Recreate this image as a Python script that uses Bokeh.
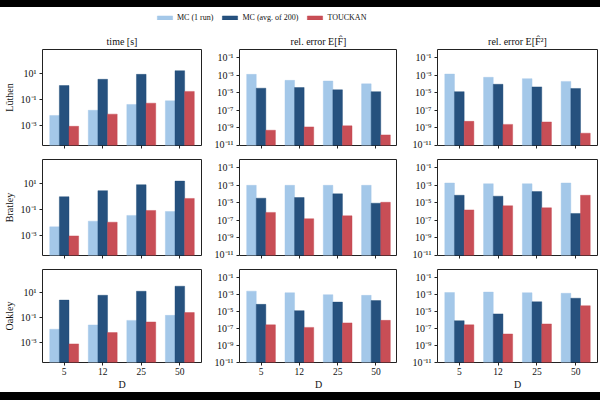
from bokeh.plotting import figure
from bokeh.layouts import column, row
from bokeh.models import (Range1d, FixedTicker, CustomJSTickFormatter, Legend,
                          LegendItem, Spacer, ColumnDataSource)
from bokeh.transform import dodge
from bokeh.embed import file_html
from bokeh.resources import INLINE

# ---------------- data ----------------
D_LABELS = ["5", "12", "25", "50"]
PROBLEMS = ["Lüthen", "Bratley", "Oakley"]
METRICS = ["time [s]", "rel. error E[F̂]", "rel. error E[F̂²]"]
SERIES = ["MC (1 run)", "MC (avg. of 200)", "TOUCKAN"]

# time [s]
luthen_time_mc1 = [5.6e-3, 1.4e-2, 3.9e-2, 7.4e-2]
luthen_time_mc200 = [1.1, 3.3, 7.9, 15.0]
luthen_time_touckan = [8.3e-4, 7.1e-3, 4.9e-2, 0.39]
bratley_time_mc1 = [4.4e-3, 1.2e-2, 3.3e-2, 6.6e-2]
bratley_time_mc200 = [0.89, 2.6, 7.4, 14.0]
bratley_time_touckan = [8.9e-4, 1.0e-2, 7.9e-2, 0.66]
oakley_time_mc1 = [1.2e-2, 2.6e-2, 6.0e-2, 0.15]
oakley_time_mc200 = [2.4, 5.8, 12.0, 30.0]
oakley_time_touckan = [8.3e-4, 6.5e-3, 4.5e-2, 0.25]

# rel. error E[F]
luthen_ef_mc1 = [1.2e-3, 2.5e-4, 2.1e-4, 1.0e-4]
luthen_ef_mc200 = [3.2e-5, 3.8e-5, 2.1e-5, 1.3e-5]
luthen_ef_touckan = [5.4e-10, 1.3e-9, 1.7e-9, 1.6e-10]
bratley_ef_mc1 = [9.3e-4, 9.3e-4, 9.3e-4, 9.3e-4]
bratley_ef_mc200 = [3.2e-5, 3.8e-5, 1.0e-4, 8.7e-6]
bratley_ef_touckan = [7.8e-7, 1.5e-7, 3.2e-7, 1.1e-5]
oakley_ef_mc1 = [2.3e-3, 1.5e-3, 8.9e-4, 7.4e-4]
oakley_ef_mc200 = [6.5e-5, 1.2e-5, 1.2e-4, 1.8e-4]
oakley_ef_touckan = [2.6e-7, 1.3e-7, 4.4e-7, 8.7e-7]

# rel. error E[F^2]
luthen_ef2_mc1 = [1.3e-3, 5.5e-4, 3.9e-4, 1.9e-4]
luthen_ef2_mc200 = [1.3e-5, 8.9e-5, 4.5e-5, 3.0e-5]
luthen_ef2_touckan = [5.5e-9, 2.5e-9, 4.7e-9, 2.5e-10]
bratley_ef2_mc1 = [1.7e-3, 1.4e-3, 1.4e-3, 1.7e-3]
bratley_ef2_mc200 = [6.9e-5, 5.4e-5, 1.8e-4, 5.9e-7]
bratley_ef2_touckan = [1.5e-6, 4.4e-6, 2.6e-6, 6.9e-5]
oakley_ef2_mc1 = [1.6e-3, 1.8e-3, 1.5e-3, 1.3e-3]
oakley_ef2_mc200 = [7.9e-7, 5.0e-6, 1.3e-4, 3.4e-4]
oakley_ef2_touckan = [2.6e-7, 2.2e-8, 3.3e-7, 4.5e-5]

TIME_TICKS = [1e-3, 1e-1, 1e1]
ERROR_TICKS = [1e-11, 1e-9, 1e-7, 1e-5, 1e-3, 1e-1]

panels = [
    [[luthen_time_mc1, luthen_time_mc200, luthen_time_touckan],
     [luthen_ef_mc1, luthen_ef_mc200, luthen_ef_touckan],
     [luthen_ef2_mc1, luthen_ef2_mc200, luthen_ef2_touckan]],
    [[bratley_time_mc1, bratley_time_mc200, bratley_time_touckan],
     [bratley_ef_mc1, bratley_ef_mc200, bratley_ef_touckan],
     [bratley_ef2_mc1, bratley_ef2_mc200, bratley_ef2_touckan]],
    [[oakley_time_mc1, oakley_time_mc200, oakley_time_touckan],
     [oakley_ef_mc1, oakley_ef_mc200, oakley_ef_touckan],
     [oakley_ef2_mc1, oakley_ef2_mc200, oakley_ef2_touckan]],
]

# ---------------- style ----------------
FONT = "Liberation Serif"
COLORS = ["#9fc5e8", "#1a4877", "#c5444d"]
EDGE = "#222222"
BAR_W = 0.25
OFFSETS = [-0.25, 0.0, 0.25]

col_border_left = [40, 37, 40]
col_frame_w = [161, 158, 160]
col_border_right = [1, 0, 4]
row_border_top = [21, 10, 10]
row_border_bottom = [4, 4, 27]
FRAME_H = 96

sup_fmt_code = """
const m = {"-":"\u207b","0":"\u2070","1":"\u00b9","2":"\u00b2","3":"\u00b3",
           "4":"\u2074","5":"\u2075","6":"\u2076","7":"\u2077","8":"\u2078","9":"\u2079"};
const e = Math.round(Math.log10(tick));
return "10" + String(e).split("").map(c => m[c]).join("");
"""

grid_rows = []
for i, prob in enumerate(PROBLEMS):
    figs = []
    for j, met in enumerate(METRICS):
        is_time = (j == 0)
        y_range = Range1d(10 ** -4.55, 10 ** 2.8) if is_time else Range1d(1e-11, 10 ** -0.1)
        w = col_border_left[j] + col_frame_w[j] + col_border_right[j]
        h = row_border_top[i] + FRAME_H + row_border_bottom[i]
        p = figure(width=w, height=h, y_axis_type="log",
                   x_range=Range1d(-0.5625, 3.5625), y_range=y_range,
                   output_backend="svg", toolbar_location=None,
                   title=(met if i == 0 else None),
                   min_border_left=col_border_left[j],
                   min_border_right=col_border_right[j],
                   min_border_top=row_border_top[i],
                   min_border_bottom=row_border_bottom[i])
        p.background_fill_color = "white"
        p.border_fill_color = "white"
        p.outline_line_color = EDGE
        p.outline_line_width = 1
        p.xgrid.visible = False
        p.ygrid.visible = False
        if i == 0:
            p.title.align = "center"
            p.title.text_font = FONT
            p.title.text_font_size = "10px"
            p.title.text_font_style = "normal"
            p.title.text_color = "#111111"
            p.title.standoff = 5

        vals = panels[i][j]
        src = ColumnDataSource(dict(idx=[0, 1, 2, 3], d=D_LABELS,
                                    s0=vals[0], s1=vals[1], s2=vals[2],
                                    bottom=[1e-30] * 4))
        for k in range(3):
            p.vbar(x=dodge("idx", OFFSETS[k]), top="s%d" % k, bottom="bottom",
                   width=BAR_W, source=src, fill_color=COLORS[k], fill_alpha=0.95,
                   line_color=COLORS[k], line_alpha=0.5, line_width=0.8)

        # y axis
        ya = p.yaxis[0]
        ya.ticker = FixedTicker(ticks=TIME_TICKS if is_time else ERROR_TICKS)
        ya.formatter = CustomJSTickFormatter(code=sup_fmt_code)
        ya.major_label_text_font = FONT
        ya.major_label_text_font_size = "10px"
        ya.major_label_text_color = "#111111"
        ya.major_tick_in = 0
        ya.major_tick_out = 3
        ya.major_tick_line_color = EDGE
        ya.minor_tick_line_color = None
        ya.axis_line_color = None
        ya.major_label_standoff = 3
        if j == 0:
            ya.axis_label = prob
            ya.axis_label_text_font = FONT
            ya.axis_label_text_font_size = "10px"
            ya.axis_label_text_font_style = "normal"
            ya.axis_label_text_color = "#111111"
            ya.axis_label_standoff = 3

        # x axis
        xa = p.xaxis[0]
        xa.ticker = FixedTicker(ticks=[0, 1, 2, 3])
        xa.major_tick_in = 0
        xa.major_tick_out = 3
        xa.major_tick_line_color = EDGE
        xa.minor_tick_line_color = None
        xa.axis_line_color = None
        if i == len(PROBLEMS) - 1:
            xa.major_label_overrides = {0: D_LABELS[0], 1: D_LABELS[1],
                                        2: D_LABELS[2], 3: D_LABELS[3]}
            xa.major_label_text_font = FONT
            xa.major_label_text_font_size = "9.5px"
            xa.major_label_text_color = "#111111"
            xa.major_label_standoff = 2
            xa.axis_label = "D"
            xa.axis_label_text_font = FONT
            xa.axis_label_text_font_size = "10px"
            xa.axis_label_text_font_style = "normal"
            xa.axis_label_text_color = "#111111"
            xa.axis_label_standoff = 1
        else:
            xa.major_label_text_font_size = "0px"
            xa.major_label_standoff = 0
            xa.major_label_overrides = {0: "", 1: "", 2: "", 3: ""}
        figs.append(p)
    grid_rows.append(row(*figs, spacing=0))

# ---------------- legend strip ----------------
lg = figure(width=600, height=21, x_range=Range1d(0, 1), y_range=Range1d(0, 1),
            output_backend="svg", toolbar_location=None,
            x_axis_location=None, y_axis_location=None,
            min_border_left=0, min_border_right=0, min_border_top=0, min_border_bottom=0)
lg.outline_line_color = None
lg.xgrid.visible = False
lg.ygrid.visible = False
# a point far outside the visible range: only the legend swatches are seen
offscreen = ColumnDataSource(dict(x=[50.0], top=[0.5]))
items = []
for k, s in enumerate(SERIES):
    r = lg.vbar(x="x", top="top", bottom=0.4, width=0.01, source=offscreen,
                fill_color=COLORS[k], fill_alpha=0.95, line_color=COLORS[k], line_alpha=0.5)
    items.append(LegendItem(label=s, renderers=[r]))
legend = Legend(items=items, location=(155, 6), orientation="horizontal",
                glyph_width=19, glyph_height=5, label_standoff=3, spacing=7,
                padding=0, margin=0, border_line_alpha=0, background_fill_alpha=0,
                label_text_font=FONT, label_text_font_size="8px",
                label_text_color="#111111", label_height=9)
lg.add_layout(legend)

top_band = Spacer(width=600, height=7, styles={"background-color": "black"})
bottom_band = Spacer(width=600, height=8, styles={"background-color": "black"})

layout = column(top_band, lg, *grid_rows, bottom_band, spacing=0)

open("out.html", "w").write(file_html(layout, INLINE))
